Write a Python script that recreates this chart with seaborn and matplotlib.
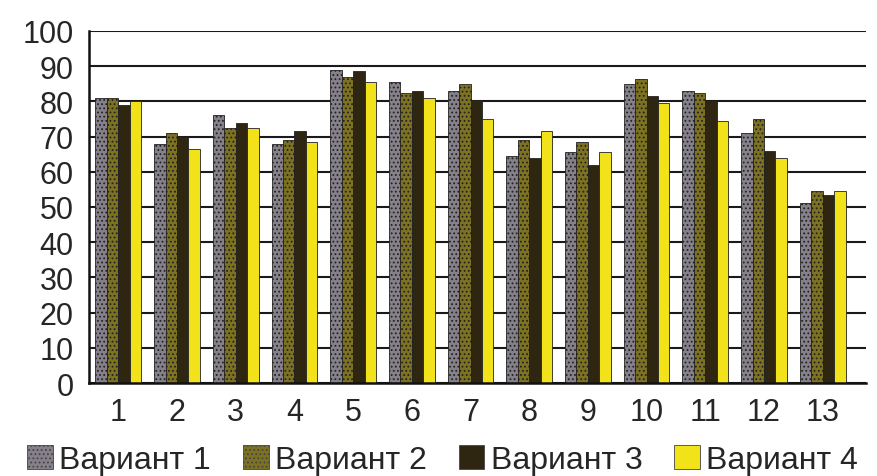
import numpy as np
import pandas as pd
import seaborn as sns
import matplotlib.pyplot as plt
from matplotlib.ticker import FixedLocator

# values
categories = [str(i) for i in range(1, 14)]
variant1 = [81, 68, 76, 68, 89, 85.5, 83, 64.5, 65.5, 85, 83, 71, 51]
variant2 = [81, 71, 72.5, 69, 87, 82.5, 85, 69, 68.5, 86.5, 82.5, 75, 54.5]
variant3 = [79, 70, 74, 71.5, 88.5, 83, 80.5, 64, 62, 81.5, 80, 66, 53.5]
variant4 = [80, 66.5, 72.5, 68.5, 85.5, 81, 75, 71.5, 65.5, 79.5, 74.5, 64, 54.5]
series_names = ["Вариант 1", "Вариант 2", "Вариант 3", "Вариант 4"]

rows = []
for name, vals in zip(series_names, [variant1, variant2, variant3, variant4]):
    for cat, v in zip(categories, vals):
        rows.append({"cat": cat, "variant": name, "value": v})
df = pd.DataFrame(rows)

palette = {
    "Вариант 1": "#85808a",
    "Вариант 2": "#7d7222",
    "Вариант 3": "#2f2612",
    "Вариант 4": "#f2e21a",
}
hatches = ["....", "....", "", ""]

sns.set_style("white")
plt.rcParams['font.family'] = ['Liberation Sans', 'DejaVu Sans']
plt.rcParams['hatch.linewidth'] = 0.8

fig = plt.figure(figsize=(8.77, 4.77), dpi=100)
ax = fig.add_axes([89 / 877, 1 - 384 / 477, (866 - 89) / 877, (384 - 32) / 477])

sns.barplot(data=df, x="cat", y="value", hue="variant", palette=palette,
            width=0.78, ax=ax, legend=False, saturation=1)

for cont, h in zip(ax.containers, hatches):
    for bar in cont:
        bar.set_hatch(h)
        bar.set_edgecolor("#222222")
        bar.set_linewidth(0.6)

ax.set_ylim(0, 100)
ax.set_xlim(-0.5, 12.5 + 14 / 58.7)
ax.set_yticks(range(0, 101, 10))
ax.yaxis.grid(True, color="#1a1a1a", linewidth=1.5)
ax.set_axisbelow(True)
ax.set_xlabel("")
ax.set_ylabel("")
for s in ["top", "right"]:
    ax.spines[s].set_visible(False)
for s in ["left", "bottom"]:
    ax.spines[s].set_color("#111111")
    ax.spines[s].set_linewidth(1.8)

ax.xaxis.set_minor_locator(FixedLocator(np.arange(-0.5, 13, 1.0)))
ax.tick_params(axis="x", which="major", length=0, labelsize=22, pad=10)
ax.tick_params(axis="x", which="minor", length=14, width=1.8, color="#111111", direction="inout")
ax.tick_params(axis="y", length=16, width=1.5, color="#111111", labelsize=22, pad=3, direction="inout")

handles = [plt.Rectangle((0, 0), 1, 1, facecolor=palette[n], edgecolor="#444444",
                         linewidth=0.6, hatch=h) for n, h in zip(series_names, hatches)]
fig.legend(handles, series_names, loc="center", bbox_to_anchor=(0.505, 1 - 461 / 477),
           ncol=4, frameon=False, fontsize=23, handlelength=0.8, handleheight=0.8,
           handletextpad=0.2, columnspacing=1.0, borderaxespad=0)

fig.savefig("out.png", dpi=100)
